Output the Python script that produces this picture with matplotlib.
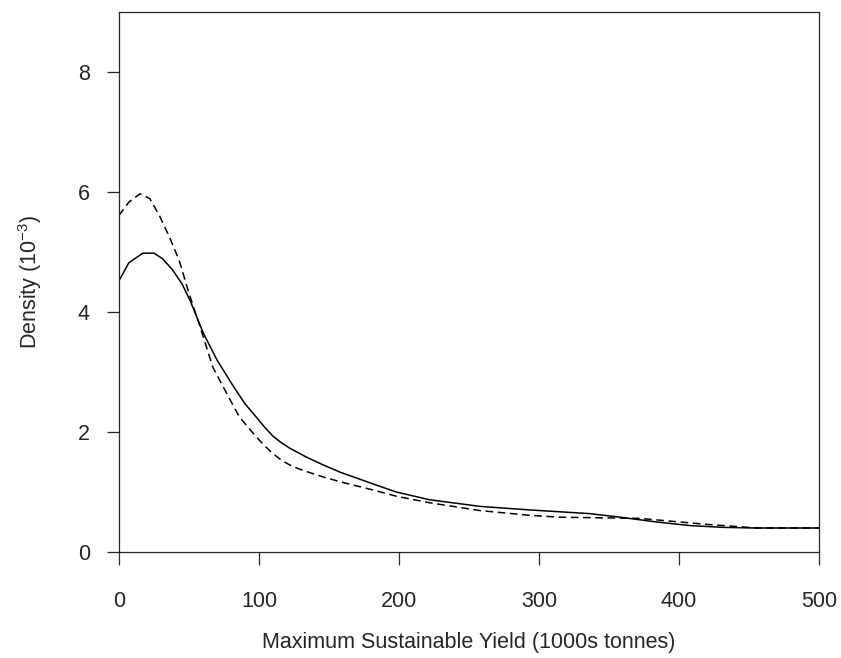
import matplotlib
matplotlib.use("Agg")
from matplotlib import pyplot as plt
from matplotlib import rcParams

# density curves (x in 1000s tonnes, y in 10^-3)
solid_x = [0, 7, 17, 25, 31, 38, 45, 51, 60, 70, 82, 90, 98, 104, 110, 116, 122, 134, 146, 158,
           170, 182, 198, 222, 258, 294, 315, 336, 358, 384, 408, 432, 455, 500]
solid_y = [4.52, 4.82, 4.98, 4.98, 4.89, 4.71, 4.47, 4.18, 3.66, 3.20, 2.75, 2.47, 2.25, 2.08,
           1.93, 1.82, 1.73, 1.58, 1.45, 1.33, 1.23, 1.13, 1.00, 0.87, 0.76, 0.70, 0.67, 0.64,
           0.58, 0.50, 0.44, 0.41, 0.40, 0.40]

dashed_x = [0, 7, 15, 22, 29, 36, 43, 50, 58, 67, 77, 86, 98, 104, 110, 116, 122, 128, 134, 146,
            158, 182, 198, 222, 258, 294, 315, 344, 372, 396, 420, 444, 455, 500]
dashed_y = [5.61, 5.83, 5.97, 5.89, 5.60, 5.25, 4.86, 4.31, 3.75, 3.08, 2.64, 2.25, 1.92, 1.77,
            1.64, 1.53, 1.45, 1.39, 1.34, 1.25, 1.17, 1.03, 0.93, 0.82, 0.69, 0.61, 0.58, 0.57,
            0.56, 0.51, 0.46, 0.42, 0.40, 0.40]

x_ticks = [0, 100, 200, 300, 400, 500]
y_ticks = [0, 2, 4, 6, 8]

rcParams["font.family"] = ["Liberation Sans", "DejaVu Sans"]
rcParams["mathtext.fontset"] = "custom"
rcParams["mathtext.rm"] = "Liberation Sans"
rcParams["mathtext.it"] = "Liberation Sans"
rcParams["mathtext.default"] = "regular"

txt = "#262626"

fig = plt.figure(figsize=(8.41, 6.58), dpi=100)
ax = fig.add_axes([119 / 841, 106 / 658, 700 / 841, 540 / 658])

ax.plot(solid_x, solid_y, color="black", lw=1.1)
ax.plot(dashed_x, dashed_y, color="black", lw=1.1, dashes=(5, 3))

ax.set_xlim(0, 500)
ax.set_ylim(0, 9)
ax.set_xticks(x_ticks)
ax.set_yticks(y_ticks)
ax.tick_params(direction="out", length=9, width=0.9, colors=txt, labelsize=15.5)
ax.tick_params(axis="x", pad=19)
ax.tick_params(axis="y", pad=12)
for s in ax.spines.values():
    s.set_color(txt)
    s.set_linewidth(0.9)

ax.set_xlabel("Maximum Sustainable Yield (1000s tonnes)", fontsize=15.5, color=txt)
ax.set_ylabel(r"Density (10$^{-3}$)", fontsize=15.5, color=txt)
ax.xaxis.set_label_coords(0.5, -0.1685)
ax.yaxis.set_label_coords(-0.127, 0.5)
ax.xaxis.label.set_va("center")
ax.yaxis.label.set_va("center")

fig.savefig("out.png", dpi=100)
